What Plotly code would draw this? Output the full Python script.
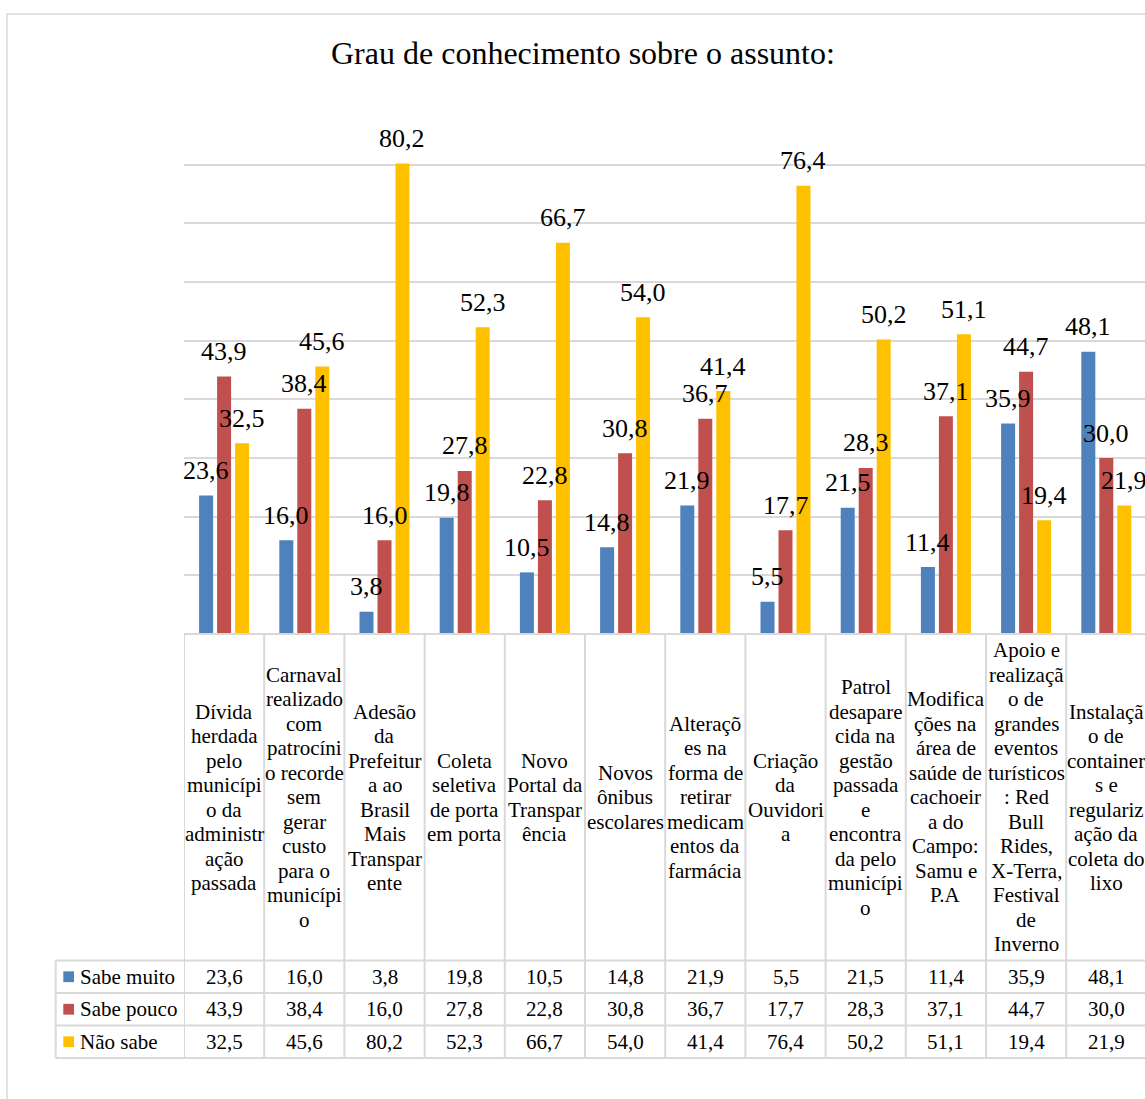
import plotly.graph_objects as go

# ---------------- data ----------------
categories = [
    "Dívida herdada pelo município da administração passada",
    "Carnaval realizado com patrocínio recorde sem gerar custo para o município",
    "Adesão da Prefeitura ao Brasil Mais Transparente",
    "Coleta seletiva de porta em porta",
    "Novo Portal da Transparência",
    "Novos ônibus escolares",
    "Alterações na forma de retirar medicamentos da farmácia",
    "Criação da Ouvidoria",
    "Patrol desaparecida na gestão passada e encontrada pelo município",
    "Modificações na área de saúde de cachoeira do Campo: Samu e P.A",
    "Apoio e realização de grandes eventos turísticos: Red Bull Rides, X-Terra, Festival de Inverno",
    "Instalação de containers e regularização da coleta do lixo",
]
category_lines = [
    ["Dívida", "herdada", "pelo", "municípi", "o da", "administr", "ação", "passada"],
    ["Carnaval", "realizado", "com", "patrocíni", "o recorde", "sem", "gerar", "custo", "para o", "municípi", "o"],
    ["Adesão", "da", "Prefeitur", "a ao", "Brasil", "Mais", "Transpar", "ente"],
    ["Coleta", "seletiva", "de porta", "em porta"],
    ["Novo", "Portal da", "Transpar", "ência"],
    ["Novos", "ônibus", "escolares"],
    ["Alteraçõ", "es na", "forma de", "retirar", "medicam", "entos da", "farmácia"],
    ["Criação", "da", "Ouvidori", "a"],
    ["Patrol", "desapare", "cida na", "gestão", "passada", "e", "encontra", "da pelo", "municípi", "o"],
    ["Modifica", "ções na", "área de", "saúde de", "cachoeir", "a do", "Campo:", "Samu e", "P.A"],
    ["Apoio e", "realizaçã", "o de", "grandes", "eventos", "turísticos", ": Red", "Bull", "Rides,", "X-Terra,", "Festival", "de", "Inverno"],
    ["Instalaçã", "o de", "container", "s e", "regulariz", "ação da", "coleta do", "lixo"],
]
series_names = ["Sabe muito", "Sabe pouco", "Não sabe"]
sabe_muito = [23.6, 16.0, 3.8, 19.8, 10.5, 14.8, 21.9, 5.5, 21.5, 11.4, 35.9, 48.1]
sabe_pouco = [43.9, 38.4, 16.0, 27.8, 22.8, 30.8, 36.7, 17.7, 28.3, 37.1, 44.7, 30.0]
nao_sabe = [32.5, 45.6, 80.2, 52.3, 66.7, 54.0, 41.4, 76.4, 50.2, 51.1, 19.4, 21.9]
title_text = "Grau de conhecimento sobre o assunto:"
y_max = 90
y_step = 10

series_values = [sabe_muito, sabe_pouco, nao_sabe]
colors = ["#4F81BD", "#C0504D", "#FFC000"]

# ---------------- layout geometry (pixels) ----------------
W, H = 1145, 1099
PL, PT, PB = 184, 106, 634          # plot left, plot top, zero line
CAT_W = 80.2                         # width of one category in px
PW = W - PL
PH = PB - PT
FONT = "Liberation Serif, Times New Roman, serif"
GRID = "#d9d9d9"
BARGAP = 0.327
BARGROUPGAP = 0.222

def px_x(X):
    return (X - PL) / PW

def px_y(Y):
    return (PB - Y) / PH

n = len(categories)
xs = list(range(n))

fig = go.Figure()
for name, vals, col in zip(series_names, series_values, colors):
    fig.add_trace(go.Bar(x=xs, y=vals, name=name, marker=dict(color=col, line=dict(width=0)),
                         hoverinfo="skip", showlegend=False))

annotations = []
shapes = []

# data labels above the bars
slot = (1 - BARGAP) / len(series_values)
for k, vals in enumerate(series_values):
    off = (k - (len(series_values) - 1) / 2) * slot
    for i, v in enumerate(vals):
        annotations.append(dict(x=i + off, y=v, xref="x", yref="y", text=f"{v:.1f}".replace(".", ","),
                                showarrow=False, yshift=25, font=dict(family=FONT, size=26, color="#000"),
                                xanchor="center", yanchor="middle"))

# category labels (data table header row)
ROW_TOP = 960.5
LABEL_CENTER = (PB + ROW_TOP) / 2
LINE_H = 24.5
for i, lines in enumerate(category_lines):
    m = len(lines)
    for j, ln in enumerate(lines):
        ypix = LABEL_CENTER + (j - (m - 1) / 2) * LINE_H
        annotations.append(dict(x=i, y=px_y(ypix), xref="x", yref="paper", text=ln, showarrow=False,
                                font=dict(family=FONT, size=21, color="#000"),
                                xanchor="center", yanchor="middle"))

# data table rows
ROW_H = 32.5
TABLE_LEFT = 55.7
for r, (name, vals, col) in enumerate(zip(series_names, series_values, colors)):
    yc = ROW_TOP + ROW_H * (r + 0.5)
    for i, v in enumerate(vals):
        annotations.append(dict(x=i, y=px_y(yc), xref="x", yref="paper", text=f"{v:.1f}".replace(".", ","),
                                showarrow=False, font=dict(family=FONT, size=21, color="#000"),
                                xanchor="center", yanchor="middle"))
    annotations.append(dict(x=px_x(78), y=px_y(yc), xref="paper", yref="paper", text=name, showarrow=False,
                            font=dict(family=FONT, size=21, color="#000"), xanchor="left", yanchor="middle"))
    shapes.append(dict(type="rect", xref="paper", yref="paper",
                       x0=px_x(63.3), x1=px_x(74), y0=px_y(yc - 5.4), y1=px_y(yc + 5.4),
                       fillcolor=col, line=dict(width=0), layer="above"))

# table lines
line_style = dict(color=GRID, width=2)
for i in range(n):
    shapes.append(dict(type="line", xref="x", yref="paper", x0=i - 0.5, x1=i - 0.5,
                       y0=0, y1=px_y(ROW_TOP + 3 * ROW_H), line=line_style, layer="above"))
shapes.append(dict(type="line", xref="paper", yref="paper", x0=0, x1=1, y0=0, y1=0, line=line_style, layer="above"))
for r in range(4):
    yy = px_y(ROW_TOP + r * ROW_H)
    shapes.append(dict(type="line", xref="paper", yref="paper", x0=px_x(TABLE_LEFT), x1=1.01,
                       y0=yy, y1=yy, line=line_style, layer="above"))
shapes.append(dict(type="line", xref="paper", yref="paper", x0=px_x(TABLE_LEFT), x1=px_x(TABLE_LEFT),
                   y0=px_y(ROW_TOP), y1=px_y(ROW_TOP + 3 * ROW_H), line=line_style, layer="above"))

# outer chart frame
shapes.append(dict(type="rect", xref="paper", yref="paper", x0=px_x(7), y0=px_y(14), x1=px_x(W + 20), y1=px_y(H + 20),
                   line=dict(color=GRID, width=1.5), fillcolor="rgba(0,0,0,0)", layer="below"))

# title
annotations.append(dict(x=px_x(582.5), y=px_y(53), xref="paper", yref="paper", text=title_text, showarrow=False,
                        font=dict(family=FONT, size=32, color="#000"), xanchor="center", yanchor="middle"))

fig.update_layout(
    width=W, height=H,
    margin=dict(l=PL, r=0, t=PT, b=H - PB, pad=0),
    paper_bgcolor="white", plot_bgcolor="white",
    barmode="group", bargap=BARGAP, bargroupgap=BARGROUPGAP,
    xaxis=dict(range=[-0.5, -0.5 + PW / CAT_W], showticklabels=False, showgrid=False, zeroline=False,
               showline=False, ticks=""),
    yaxis=dict(range=[0, y_max], dtick=y_step, tick0=0, showticklabels=False, showgrid=True, gridcolor=GRID,
               gridwidth=1.5, zeroline=False, showline=False, ticks=""),
    annotations=annotations, shapes=shapes,
    showlegend=False,
)

fig.write_html("out.html")
